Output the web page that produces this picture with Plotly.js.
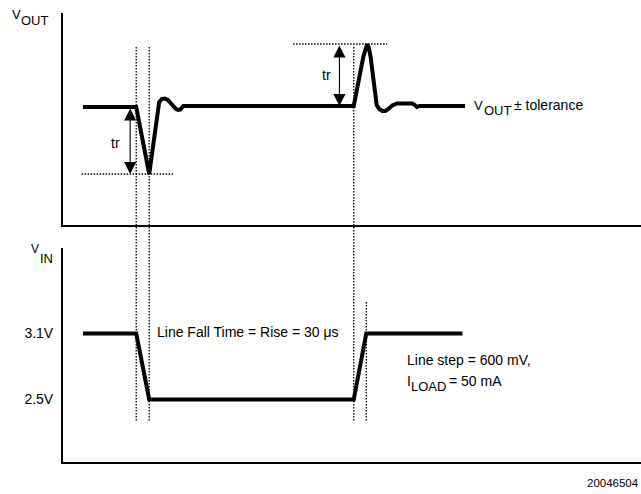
<!DOCTYPE html>
<html>
<head>
<meta charset="utf-8">
<script src="https://cdn.plot.ly/plotly-3.0.1.min.js"></script>
<style>html,body{margin:0;padding:0;background:#fff;}#chart{width:641px;height:494px;}</style>
</head>
<body>
<div id="chart"></div>
<script>
// Time axis in microseconds (schematic)
const voutTime = [46, 169, 199, 222, 228, 235, 242, 252, 261, 266, 271, 278, 671, 693, 698, 702, 706, 710, 724, 730, 737, 744, 751, 760, 771, 806, 812, 817, 823, 928];
// V_OUT deviation from nominal (arbitrary units)
const voutDev  = [0, 0, -67, 5, 8, 8.5, 7, 2, -2, -3, -2.5, 1, 1, 50, 59, 63, 59, 50, 2, -2, -4, -4, -2, 1.5, 3.5, 3.5, 2, 0, 1, 1];
// V_IN step (volts)
const vinTime = [46, 169, 199, 671, 700, 922];
const vinVolt = [3.1, 3.1, 2.5, 2.5, 3.1, 3.1];
const vinTicks = [2.5, 3.1];
const vinTickText = ['2.5V', '3.1V'];
// reference (tolerance) marker extents in time
const dipMarkTime = [43, 255];
const peakMarkTime = [531, 748];
const trArrowTime = [155, 638];

const FONT = 'Liberation Sans, Arial, Helvetica, sans-serif';
const W = 641, H = 494;
const px = v => v / W;
const py = v => 1 - v / H;

const dipMin = Math.min(...voutDev);
const peakMax = Math.max(...voutDev);

const black = '#000';
const dotted = {color: black, width: 1.3, dash: '1.5px,1.5px'};

const traces = [
  {x: voutTime, y: voutDev, xaxis: 'x', yaxis: 'y', mode: 'lines',
   line: {color: black, width: 4}, hoverinfo: 'skip'},
  {x: vinTime, y: vinVolt, xaxis: 'x2', yaxis: 'y2', mode: 'lines',
   line: {color: black, width: 4}, hoverinfo: 'skip'},
  {x: dipMarkTime, y: [dipMin, dipMin], xaxis: 'x', yaxis: 'y', mode: 'lines',
   line: dotted, hoverinfo: 'skip'},
  {x: peakMarkTime, y: [peakMax, peakMax], xaxis: 'x', yaxis: 'y', mode: 'lines',
   line: dotted, hoverinfo: 'skip'}
];

const shapes = [];
[[vinTime[1], 47], [vinTime[2], 47], [vinTime[3], 47], [vinTime[4], 302]].forEach(([t, top]) => {
  shapes.push({type: 'line', xref: 'x', yref: 'paper', x0: t, x1: t, y0: py(top), y1: py(421.5),
    line: dotted, layer: 'below'});
});

function txt(text, inkLeft, capCenter, size) {
  return {xref: 'paper', yref: 'paper', x: px(inkLeft - 3), y: py(capCenter),
    xanchor: 'left', yanchor: 'middle', showarrow: false, text: text,
    font: {family: FONT, size: size, color: black}};
}
function arrow(t, yEnd, yStart) {
  return {xref: 'x', yref: 'y', axref: 'x', ayref: 'y', x: t, y: yEnd, ax: t, ay: yStart,
    text: '', showarrow: true, arrowside: 'end+start', arrowhead: 2, startarrowhead: 2,
    arrowsize: 2.2, startarrowsize: 2.2, arrowwidth: 1.1, arrowcolor: black,
    standoff: 0, startstandoff: 0};
}

const annotations = [
  txt('V', 12.7, 14.7, 13),
  txt('OUT', 22, 20.7, 13),
  txt('V', 32.3, 248.7, 12),
  txt('IN', 40.5, 258, 13),
  txt('Line Fall Time = Rise = 30 μs', 158.3, 331.7, 14),
  txt('V', 475, 105.3, 13),
  txt('OUT', 485, 110, 13),
  txt('± tolerance', 515, 105.3, 14),
  txt('tr', 112, 143.5, 14),
  txt('tr', 323, 75, 14),
  txt('Line step = 600 mV,', 407.7, 360, 14),
  txt('I', 407.7, 381, 14),
  txt('LOAD', 411.7, 386.7, 13),
  txt('= 50 mA', 450, 381, 14),
  {xref: 'paper', yref: 'paper', x: px(640.5), y: py(483), xanchor: 'right', yanchor: 'middle',
   showarrow: false, text: '20046504', font: {family: FONT, size: 11.5, color: black}},
  arrow(trArrowTime[0], dipMin, 0),
  arrow(trArrowTime[1], 1, peakMax)
];

const xBase = {domain: [63 / W, 1], range: [0, 1334], showline: true, linewidth: 2, linecolor: black,
  showgrid: false, zeroline: false, showticklabels: false, ticks: '', fixedrange: true};

const layout = {
  width: W, height: H,
  margin: {l: 0, r: 0, t: 0, b: 0, pad: 0},
  paper_bgcolor: '#fff', plot_bgcolor: 'rgba(0,0,0,0)',
  showlegend: false, hovermode: false,
  font: {family: FONT, size: 14, color: black},
  xaxis: Object.assign({}, xBase, {anchor: 'y'}),
  xaxis2: Object.assign({}, xBase, {anchor: 'y2', matches: 'x'}),
  yaxis: {domain: [(H - 225) / H, (H - 13) / H], range: [-118, 94], anchor: 'x',
    showline: true, linewidth: 2, linecolor: black, showgrid: false, zeroline: false,
    showticklabels: false, ticks: '', fixedrange: true},
  yaxis2: {domain: [(H - 462) / H, (H - 247.5) / H], range: [1.9318, 3.8818], anchor: 'x2',
    showline: true, linewidth: 2, linecolor: black, showgrid: false, zeroline: false,
    tickvals: vinTicks, ticktext: vinTickText, ticks: 'outside', ticklen: 5,
    tickcolor: 'rgba(0,0,0,0)', tickfont: {family: FONT, size: 14, color: black}, fixedrange: true},
  shapes: shapes,
  annotations: annotations
};

Plotly.newPlot('chart', traces, layout, {staticPlot: true, displayModeBar: false});
</script>
</body>
</html>
